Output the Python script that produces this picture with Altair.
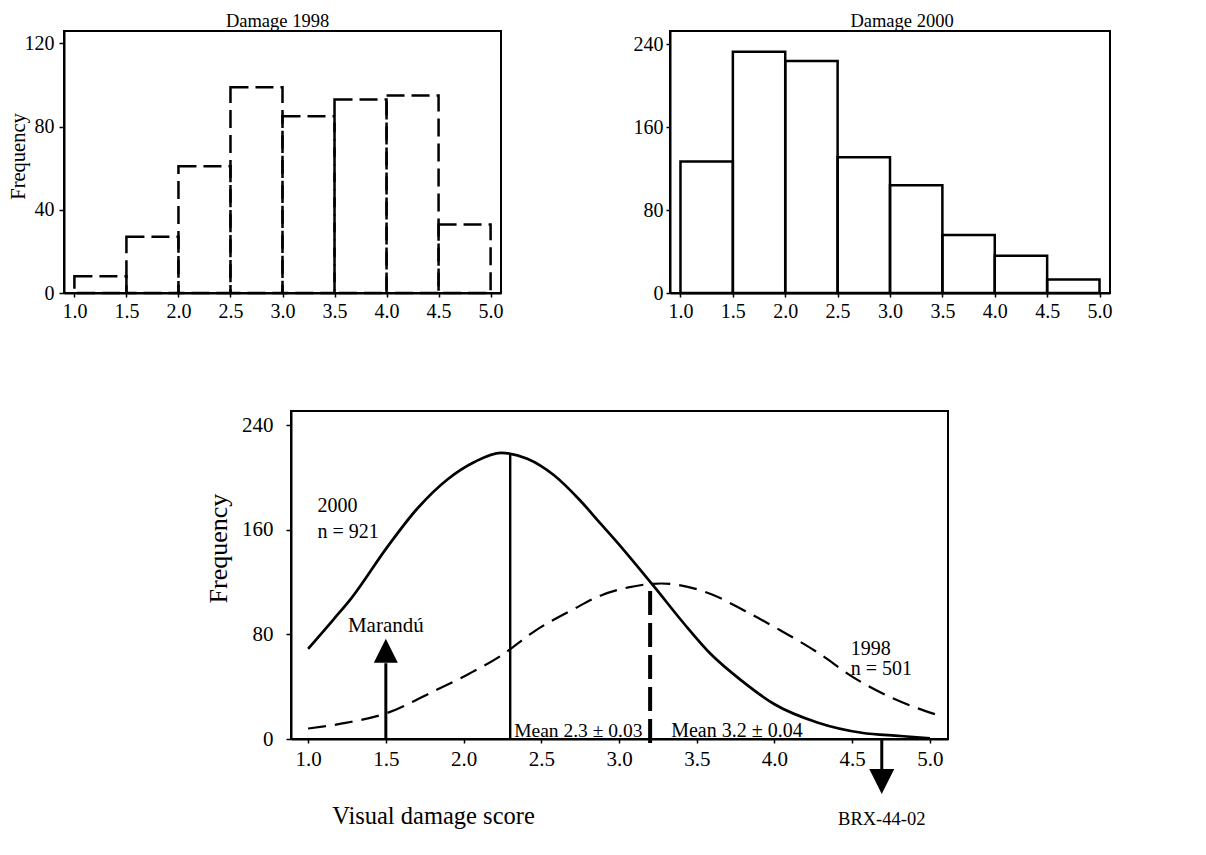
import altair as alt
import pandas as pd

FONT = "Liberation Serif"

# Score classes shared by both histograms
bin_start = [1.0, 1.5, 2.0, 2.5, 3.0, 3.5, 4.0, 4.5]
bin_end = [1.5, 2.0, 2.5, 3.0, 3.5, 4.0, 4.5, 5.0]
freq_1998 = [8, 27, 61, 99, 85, 93, 95, 33]
freq_2000 = [127, 233, 224, 131, 104, 56, 36, 13]

score_ticks = [1.0, 1.5, 2.0, 2.5, 3.0, 3.5, 4.0, 4.5, 5.0]

# Fitted frequency curves (bottom panel)
curve_2000_x = [1.0, 1.16, 1.28, 1.51, 1.70, 1.90, 2.07, 2.24, 2.41, 2.58, 2.75,
                2.88, 2.97, 3.23, 3.42, 3.59, 3.79, 4.0, 4.28, 4.56, 4.81, 5.0]
curve_2000_y = [69, 91, 108, 147, 176, 199, 212, 219, 214.5, 202, 182.5,
                165, 153, 116, 88, 65, 44.5, 26.6, 12.5, 4.8, 2.3, 0.5]
curve_1998_x = [1.0, 1.25, 1.51, 1.79, 2.03, 2.24, 2.46, 2.71, 2.88, 3.06, 3.27,
                3.59, 3.81, 4.04, 4.28, 4.51, 4.75, 5.07]
curve_1998_y = [8, 12.5, 20, 35.5, 49.6, 63.7, 82.8, 99.5, 109.7, 116, 119,
                111, 98, 83, 66, 47, 31.7, 17.6]

# Means and the height of each mean line
mean_2000, top_2000 = 2.3, 218
mean_1998, top_1998 = 3.2, 117

# Cultivar markers on the score axis
marandu_x = 1.5
brx_x = 4.69

hist_1998 = pd.DataFrame({"start": bin_start, "end": bin_end, "freq": freq_1998})
hist_2000 = pd.DataFrame({"start": bin_start, "end": bin_end, "freq": freq_2000})


def top_x():
    return alt.X(
        "start:Q",
        scale=alt.Scale(domain=[0.9, 5.1], nice=False, zero=False),
        axis=alt.Axis(values=score_ticks, format=".1f", title=None, tickSize=4,
                      labelFontSize=20, labelPadding=4),
    )


panel_1998 = (
    alt.Chart(hist_1998)
    .mark_rect(fill="transparent", stroke="black", strokeWidth=2.5, strokeDash=[18, 7])
    .encode(
        x=top_x(),
        x2="end:Q",
        y=alt.Y(
            "freq:Q",
            scale=alt.Scale(domain=[0, 126], nice=False),
            axis=alt.Axis(values=[0, 40, 80, 120], title="Frequency", tickSize=5,
                          labelFontSize=20, labelPadding=5, titleFontSize=20.5,
                          titleX=-46, titleY=125, titleAngle=270,
                          titleBaseline="middle", titleAlign="center"),
        ),
        y2=alt.datum(0),
    )
    .properties(width=437, height=262,
                title=alt.TitleParams("Damage 1998", anchor="middle", dx=-5,
                                      offset=-14, baseline="alphabetic"))
)

panel_2000 = (
    alt.Chart(hist_2000)
    .mark_rect(fill="transparent", stroke="black", strokeWidth=2.5)
    .encode(
        x=top_x(),
        x2="end:Q",
        y=alt.Y(
            "freq:Q",
            scale=alt.Scale(domain=[0, 253], nice=False),
            axis=alt.Axis(values=[0, 80, 160, 240], title=None, tickSize=4,
                          labelFontSize=20, labelPadding=3),
        ),
        y2=alt.datum(0),
    )
    .properties(width=440, height=262,
                title=alt.TitleParams("Damage 2000", anchor="middle", dx=12,
                                      offset=-14, baseline="alphabetic"))
)

# Bottom panel: shared scales and axes for every layer
x_scale = alt.Scale(domain=[0.89, 5.116], nice=False, zero=False)
y_scale = alt.Scale(domain=[0, 251], nice=False)
x_axis = alt.Axis(values=score_ticks, format=".1f", title="Visual damage score",
                  tickSize=4, labelFontSize=21, labelPadding=5,
                  titleFontSize=24.5, titleX=142, titleY=84,
                  titleBaseline="alphabetic", titleAlign="center")
y_axis = alt.Axis(values=[0, 80, 160, 240], title="Frequency", tickSize=5,
                  labelFontSize=21, labelPadding=13, titleFontSize=26,
                  titleX=-73, titleY=137, titleAngle=270,
                  titleBaseline="middle", titleAlign="center")


def bx():
    return alt.X("x:Q", scale=x_scale, axis=x_axis)


def by():
    return alt.Y("y:Q", scale=y_scale, axis=y_axis)


c1998 = pd.DataFrame({"x": curve_1998_x, "y": curve_1998_y})
c2000 = pd.DataFrame({"x": curve_2000_x, "y": curve_2000_y})

line_1998 = alt.Chart(c1998).mark_line(
    color="black", strokeWidth=2.2, strokeDash=[18, 9], interpolate="monotone"
).encode(x=bx(), y=by())
line_2000 = alt.Chart(c2000).mark_line(
    color="black", strokeWidth=2.7, interpolate="monotone"
).encode(x=bx(), y=by())

mean_solid = alt.Chart(pd.DataFrame({"x": [mean_2000], "y": [0], "y2": [top_2000]})).mark_rule(
    color="black", strokeWidth=2.4
).encode(x=bx(), y=by(), y2="y2:Q")
mean_dashed = alt.Chart(pd.DataFrame({"x": [mean_1998], "y": [-3], "y2": [top_1998]})).mark_rule(
    color="black", strokeWidth=4, strokeDash=[24, 8]
).encode(x=bx(), y=by(), y2="y2:Q")

arrow_shafts = alt.Chart(pd.DataFrame({"x": [marandu_x, brx_x], "y": [0, 0], "y2": [58, -23]})).mark_rule(
    color="black", strokeWidth=3
).encode(x=bx(), y=by(), y2="y2:Q")
head_up = alt.Chart(pd.DataFrame({"x": [marandu_x], "y": [67.5]})).mark_point(
    shape="M0,-1L-1,1L1,1Z", size=576, filled=True, color="black", opacity=1
).encode(x=bx(), y=by())
head_down = alt.Chart(pd.DataFrame({"x": [brx_x], "y": [-32.6]})).mark_point(
    shape="M0,1L-1,-1L1,-1Z", size=625, filled=True, color="black", opacity=1
).encode(x=bx(), y=by())

notes = pd.DataFrame({
    "x": [1.06, 1.06, 4.49, 4.49],
    "y": [173.6, 153.6, 64.5, 49.2],
    "label": ["2000", "n = 921", "1998", "n = 501"],
})
note_text = alt.Chart(notes).mark_text(
    font=FONT, fontSize=20, align="left", baseline="alphabetic", color="black"
).encode(x=bx(), y=by(), text="label:N")

marandu_text = alt.Chart(pd.DataFrame({"x": [marandu_x], "y": [82], "label": ["Marandú"]})).mark_text(
    font=FONT, fontSize=21, align="center", baseline="alphabetic", color="black"
).encode(x=bx(), y=by(), text="label:N")

mean_text_2000 = alt.Chart(pd.DataFrame({"x": [mean_2000], "y": [0], "label": ["Mean 2.3 ± 0.03"]})).mark_text(
    font=FONT, fontSize=19.5, align="left", baseline="alphabetic", dx=4, dy=-2, color="black"
).encode(x=bx(), y=by(), text="label:N")
mean_text_1998 = alt.Chart(pd.DataFrame({"x": [mean_1998], "y": [0], "label": ["Mean 3.2 ± 0.04"]})).mark_text(
    font=FONT, fontSize=20, align="left", baseline="alphabetic", dx=21, dy=-2, color="black"
).encode(x=bx(), y=by(), text="label:N")

brx_text = alt.Chart(pd.DataFrame({"x": [brx_x], "y": [-66], "label": ["BRX-44-02"]})).mark_text(
    font=FONT, fontSize=18.5, align="center", baseline="alphabetic", color="black"
).encode(x=bx(), y=by(), text="label:N")

panel_curves = alt.layer(
    line_1998, line_2000, mean_solid, mean_dashed, arrow_shafts, head_up, head_down,
    note_text, marandu_text, mean_text_2000, mean_text_1998, brx_text,
).properties(width=657, height=328)

spacer = (
    alt.Chart(pd.DataFrame({"v": [0]}))
    .mark_point(opacity=0)
    .encode(x=alt.X("v:Q", axis=None), y=alt.Y("v:Q", axis=None))
    .properties(width=1, height=328, view=alt.ViewBackground(stroke="transparent"))
)

chart = (
    alt.vconcat(
        alt.hconcat(panel_1998, panel_2000, spacing=169, bounds="flush"),
        alt.hconcat(spacer, panel_curves, spacing=226, bounds="flush"),
        spacing=380,
        bounds="flush",
    )
    .properties(padding={"left": 7, "top": 10, "right": 5, "bottom": 5}, background="white")
    .configure_view(stroke="black", strokeWidth=2)
    .configure_axis(
        domainColor="black", domainWidth=2, tickColor="black", tickWidth=1.5,
        labelFont=FONT, labelColor="black", titleFont=FONT, titleColor="black",
        titleFontWeight="normal", grid=False, labelFlush=False, labelOverlap=False,
    )
    .configure_title(font=FONT, fontSize=18.5, fontWeight="normal", color="black")
)

chart.save("out.html", embed_options={"renderer": "svg", "actions": False})
